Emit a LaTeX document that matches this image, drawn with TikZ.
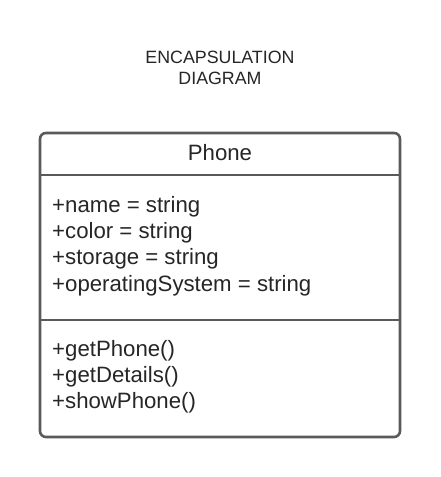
\documentclass[tikz,border=0pt]{standalone}
\usepackage{fontspec}
\setmainfont{Liberation Sans}
\definecolor{linegray}{HTML}{5A5A5A}
\definecolor{textdark}{HTML}{262626}
\begin{document}
\begin{tikzpicture}[x=1pt,y=-1pt,
  boxline/.style={draw=linegray,line width=2.6pt},
  title/.style={text=textdark,font=\fontsize{17.8}{21}\selectfont,anchor=base,inner sep=0pt},
  member/.style={text=textdark,font=\fontsize{22.2}{26}\selectfont,anchor=base west,inner sep=0pt},
  head/.style={text=textdark,font=\fontsize{22.2}{26}\selectfont,anchor=base,inner sep=0pt}]
\useasboundingbox (0,0) rectangle (440,477);
\fill[white] (0,0) rectangle (440,477);
\node[title] (t1) at (220,63) {ENCAPSULATION};
\node[title] (t2) at (220,84) {DIAGRAM};
\draw[boxline,rounded corners=6pt] (40,133) rectangle (400,437);
\draw[boxline] (40,175) -- (400,175);
\draw[boxline] (40,320) -- (400,320);
\node[head] (cls) at (220,160) {Phone};
\node[member] (a1) at (52,212) {+name = string};
\node[member] (a2) at (52,238) {+color = string};
\node[member] (a3) at (52,264) {+storage = string};
\node[member] (a4) at (52,291) {+operatingSystem = string};
\node[member] (m1) at (52,356) {+getPhone()};
\node[member] (m2) at (52,382) {+getDetails()};
\node[member] (m3) at (52,408) {+showPhone()};
\end{tikzpicture}
\end{document}
